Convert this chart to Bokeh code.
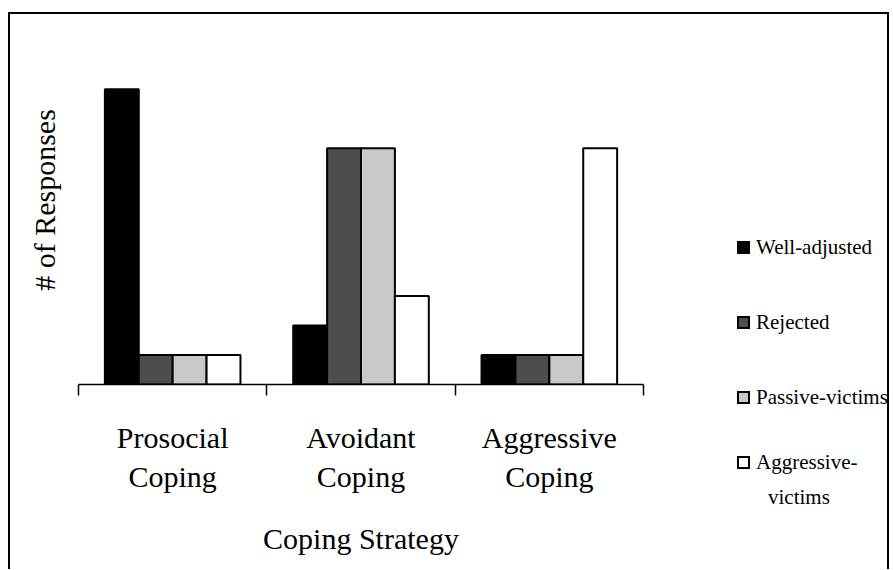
from bokeh.plotting import figure
from bokeh.layouts import row
from bokeh.models import ColumnDataSource, FixedTicker, LinearAxis, Range1d, Div
from bokeh.embed import file_html
from bokeh.resources import INLINE

categories = ["Prosocial\nCoping", "Avoidant\nCoping", "Aggressive\nCoping"]
series = ["Well-adjusted", "Rejected", "Passive-victims", "Aggressive-\nvictims"]
well_adjusted = [10, 2, 1]
rejected = [1, 8, 1]
passive_victims = [1, 8, 1]
aggressive_victims = [1, 3, 8]
colors = ["#000000", "#4d4d4d", "#c8c8c8", "#ffffff"]

values = [well_adjusted, rejected, passive_victims, aggressive_victims]
centers = [i + 0.5 for i in range(len(categories))]
bounds = [float(i) for i in range(len(categories) + 1)]
bar_w = 0.18
offsets = [(k - (len(series) - 1) / 2) * bar_w for k in range(len(series))]

FONT = "Liberation Serif"
H = 555

# ---------------- main chart ----------------
p = figure(width=640, height=H, x_range=Range1d(0, len(categories)),
           y_range=Range1d(0, 12.5), output_backend="svg", toolbar_location=None,
           x_axis_location=None, y_axis_location=None,
           min_border_left=68, min_border_right=7, min_border_top=1,
           min_border_bottom=H - 370)
p.grid.visible = False
p.outline_line_color = None

for k, name in enumerate(series):
    src = ColumnDataSource(dict(x=[c + offsets[k] for c in centers], top=values[k]))
    p.vbar(x="x", top="top", bottom=0, width=bar_w, source=src,
           fill_color=colors[k], line_color="black", line_width=2)

xaxis = LinearAxis(ticker=FixedTicker(ticks=centers, minor_ticks=bounds),
                   major_label_overrides={c: lab for c, lab in zip(centers, categories)},
                   axis_label="Coping Strategy")
xaxis.axis_line_color = "black"
xaxis.axis_line_width = 1.5
xaxis.major_tick_line_color = None
xaxis.major_tick_out = 0
xaxis.major_tick_in = 0
xaxis.minor_tick_line_color = "black"
xaxis.minor_tick_line_width = 1.5
xaxis.minor_tick_out = 11
xaxis.minor_tick_in = 0
xaxis.major_label_text_font = FONT
xaxis.major_label_text_font_size = "30px"
xaxis.major_label_text_color = "black"
xaxis.major_label_standoff = 25
xaxis.axis_label_text_font = FONT
xaxis.axis_label_text_font_size = "30px"
xaxis.axis_label_text_font_style = "normal"
xaxis.axis_label_text_color = "black"
xaxis.axis_label_standoff = 26
p.add_layout(xaxis, "below")

yaxis = LinearAxis(ticker=FixedTicker(ticks=[]), axis_label="# of Responses")
yaxis.axis_line_color = None
yaxis.major_tick_line_color = None
yaxis.minor_tick_line_color = None
yaxis.major_label_text_font_size = "0px"
yaxis.axis_label_text_font = FONT
yaxis.axis_label_text_font_size = "30px"
yaxis.axis_label_text_font_style = "normal"
yaxis.axis_label_text_color = "black"
yaxis.axis_label_standoff = 18
p.add_layout(yaxis, "left")

# ---------------- legend panel (HTML) ----------------
legend_left = 87
first_center = 233
item_step = 75
line_step = 35
parts = []
y = first_center
for k, name in enumerate(series):
    lines = name.split("\n")
    parts.append(
        f'<div style="position:absolute;left:{legend_left}px;top:{y - 15}px;height:30px;'
        f'display:flex;align-items:center;white-space:nowrap">'
        f'<span style="display:inline-block;width:13px;height:13px;box-sizing:border-box;'
        f'border:2px solid #000;background:{colors[k]};margin-right:6px"></span>'
        f'{lines[0]}</div>')
    for j, extra in enumerate(lines[1:], start=1):
        parts.append(
            f'<div style="position:absolute;left:{legend_left + 31}px;top:{y - 15 + j * line_step}px;'
            f'height:30px;display:flex;align-items:center;white-space:nowrap">{extra}</div>')
    y += item_step if k < 2 else item_step - 10

legend_html = (f'<div style="position:relative;width:237px;height:{H}px;'
               f'font-family:\'{FONT}\';font-size:21px;color:#000;line-height:1">'
               + "".join(parts) + '</div>')
lp = Div(text=legend_html, width=237, height=H, margin=0)

layout = row(p, lp, spacing=0,
             styles={"border-left": "2px solid black", "border-top": "2px solid black",
                     "border-right": "2px solid black", "margin-top": "12px",
                     "margin-left": "8px"})

open("out.html", "w").write(file_html(layout, INLINE))
